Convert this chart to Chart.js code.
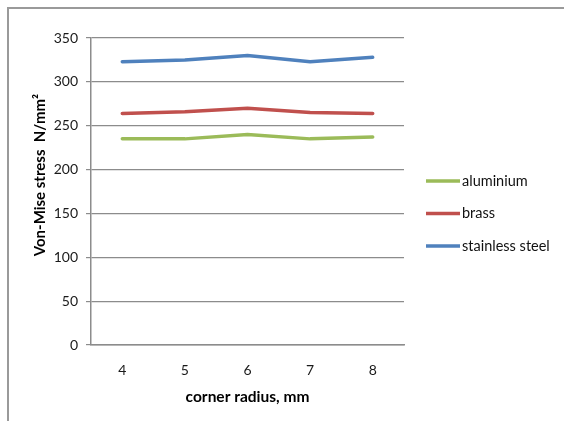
<!DOCTYPE html>
<html>
<head>
<meta charset="utf-8">
<script src="https://cdn.jsdelivr.net/npm/chart.js@4"></script>
<style>
  html, body { margin: 0; padding: 0; background: #fff; }
  #frame {
    position: absolute; left: 7px; top: 7px; width: 557px; height: 414px;
    border-top: 2px solid #9a9a9a; border-left: 2px solid #9a9a9a;
  }
  #c { position: absolute; left: 0; top: 0; }
</style>
</head>
<body>
<div id="frame"></div>
<canvas id="c" width="564" height="421"></canvas>
<script>
// radius values on the x axis
const radii = ['4', '5', '6', '7', '8'];

// stress readings, N/mm2
const aluminium = [235, 235, 240, 235, 237];
const brass = [264, 266, 270, 265, 264];
const stainless = [323, 325, 330, 323, 328];

const yTicks = [0, 50, 100, 150, 200, 250, 300, 350];

const fontFam = 'Lato, "Open Sans", sans-serif';

// legend drawn to the right of the plot like the Excel one
const sideLegend = {
    id: 'sideLegend',
    afterDraw(chart) {
        const ctx = chart.ctx;
        const x0 = chart.chartArea.right + 22;
        let y = 181;
        ctx.save();
        ctx.font = '14.5px ' + fontFam;
        ctx.textBaseline = 'middle';
        chart.data.datasets.forEach(ds => {
            ctx.strokeStyle = ds.borderColor;
            ctx.lineWidth = 3.5;
            ctx.beginPath();
            ctx.moveTo(x0, y);
            ctx.lineTo(x0 + 34, y);
            ctx.stroke();
            ctx.fillStyle = '#111';
            ctx.fillText(ds.label, x0 + 36, y);
            y += 32.5;
        });
        ctx.restore();
    }
};

const config = {
    type: 'line',
    data: {
        labels: radii,
        datasets: [
            { label: 'aluminium', data: aluminium, borderColor: '#9BBB59' },
            { label: 'brass', data: brass, borderColor: '#C0504D' },
            { label: 'stainless steel', data: stainless, borderColor: '#4F81BD' }
        ]
    },
    options: {
        responsive: false,
        animation: false,
        layout: { padding: { left: 0, top: 38, right: 160, bottom: 0 } },
        elements: {
            line: { borderWidth: 3.5, tension: 0, borderCapStyle: 'round' },
            point: { radius: 0 }
        },
        plugins: {
            legend: { display: false },
            tooltip: { enabled: false }
        },
        scales: {
            x: {
                offset: true,
                grid: { display: false, drawTicks: false },
                border: { color: '#8c8c8c', width: 1.5 },
                ticks: { color: '#1a1a1a', padding: 17, font: { family: fontFam, size: 14 } },
                title: {
                    display: true,
                    text: 'corner radius, mm',
                    color: '#000',
                    font: { family: fontFam, size: 15.5, weight: 'bold' },
                    padding: { top: 0, bottom: 15 }
                },
                afterFit(scale) { scale.height = 76; }
            },
            y: {
                min: 0,
                max: 350,
                afterBuildTicks(scale) { scale.ticks = yTicks.map(v => ({ value: v })); },
                grid: { color: '#8c8c8c', lineWidth: 1.2, tickLength: 5 },
                border: { color: '#8c8c8c', width: 1.5 },
                ticks: { color: '#1a1a1a', padding: 8, font: { family: fontFam, size: 14 } },
                title: {
                    display: true,
                    text: '         Von-Mise stress  N/mm\u00B2',
                    color: '#000',
                    font: { family: fontFam, size: 15, weight: 'bold' },
                    padding: { top: 31, bottom: 0 }
                },
                afterFit(scale) { scale.width = 91; }
            }
        }
    },
    plugins: [sideLegend]
};

new Chart(document.getElementById('c').getContext('2d'), config);
</script>
</body>
</html>
